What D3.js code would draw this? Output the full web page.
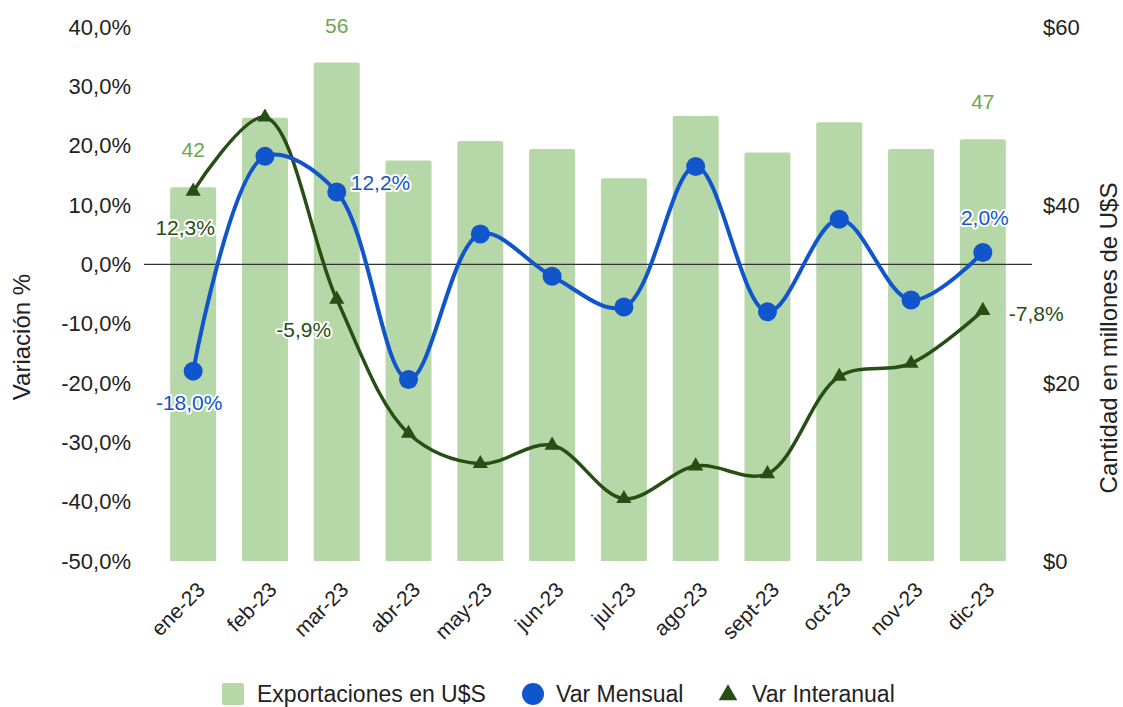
<!DOCTYPE html>
<html>
<head>
<meta charset="utf-8">
<script src="https://cdn.jsdelivr.net/npm/d3@7"></script>
<style>
  body { margin: 0; background: #fff; }
  text { font-family: Arial, "Liberation Sans", sans-serif; }
</style>
</head>
<body>
<div id="main"></div>
<script>
// datos del gráfico
const months = ['ene-23', 'feb-23', 'mar-23', 'abr-23', 'may-23', 'jun-23', 'jul-23', 'ago-23', 'sept-23', 'oct-23', 'nov-23', 'dic-23'];
const exportaciones = [42, 49.8, 56, 45, 47.2, 46.3, 43, 50, 45.9, 49.3, 46.3, 47.4];
const varMensual = [-18.0, 18.2, 12.2, -19.4, 5.1, -2.0, -7.2, 16.5, -8.0, 7.6, -6.0, 2.0];
const varInteranual = [12.3, 24.8, -5.9, -28.5, -33.6, -30.5, -39.5, -34.0, -35.3, -18.9, -16.7, -7.8];
const leftTicks = [-50, -40, -30, -20, -10, 0, 10, 20, 30, 40];
const rightTicks = [0, 20, 40, 60];
const labeled = ['ene-23', 'mar-23', 'dic-23'];

const w = 1123;
const h = 707;
const fontSize = 21;

const barColor = '#b6d7a8';
const blue = '#1155cc';
const darkGreen = '#274e13';
const labelGreen = '#6aa84f';

const svg = d3.select('#main')
    .append('svg')
    .attr('width', w)
    .attr('height', h)

const x = d3.scaleBand()
    .domain(months)
    .range([144, 1032])
    .paddingInner(0.36)
    .paddingOuter(0.365)

const yPct = d3.scaleLinear()
    .domain([-50, 40])
    .range([561, 27])

const yUsd = d3.scaleLinear()
    .domain([0, 60])
    .range([561, 27])

const cx = d => x(d) + x.bandwidth() / 2
const fmtPct = v => d3.format('.1f')(v).replace('.', ',').replace('\u2212', '-') + '%'

// ejes
const leftAxis = svg.append('g')
    .attr('transform', 'translate(144,0)')
    .call(d3.axisLeft(yPct).tickValues(leftTicks).tickSize(0).tickPadding(13).tickFormat(fmtPct))
leftAxis.select('.domain').remove()

const rightAxis = svg.append('g')
    .attr('transform', 'translate(1032,0)')
    .call(d3.axisRight(yUsd).tickValues(rightTicks).tickSize(0).tickPadding(11).tickFormat(d => '$' + d))
rightAxis.select('.domain').remove()

const bottomAxis = svg.append('g')
    .attr('transform', 'translate(0,561)')
    .call(d3.axisBottom(x).tickSize(0))
bottomAxis.select('.domain').remove()

svg.selectAll('.tick text')
    .attr('font-family', 'Arial, "Liberation Sans", sans-serif')
    .attr('font-size', 22)
    .attr('fill', '#222')

bottomAxis.selectAll('text')
    .attr('text-anchor', 'end')
    .attr('font-size', fontSize)
    .attr('dy', null)
    .attr('y', 0)
    .attr('transform', 'translate(13,30) rotate(-45)')

// títulos de ejes
svg.append('text')
    .attr('transform', 'translate(30,337) rotate(-90)')
    .attr('text-anchor', 'middle')
    .attr('font-size', 24)
    .attr('fill', '#222')
    .text('Variación %')

svg.append('text')
    .attr('transform', 'translate(1117,338) rotate(-90)')
    .attr('text-anchor', 'middle')
    .attr('font-size', 24)
    .attr('fill', '#222')
    .text('Cantidad en millones de U$S')

// barras
svg.append('g')
    .selectAll('path')
    .data(months)
    .enter()
    .append('path')
    .attr('fill', barColor)
    .attr('d', (d, i) => {
        const x0 = x(d), x1 = x0 + x.bandwidth(), y0 = yUsd(exportaciones[i]), y1 = yUsd(0), r = 2
        return `M${x0},${y1}V${y0 + r}Q${x0},${y0} ${x0 + r},${y0}H${x1 - r}Q${x1},${y0} ${x1},${y0 + r}V${y1}Z`
    })

// línea del cero
svg.append('line')
    .attr('x1', 144)
    .attr('x2', 1032)
    .attr('y1', yPct(0))
    .attr('y2', yPct(0))
    .attr('stroke', '#333')
    .attr('stroke-width', 1.3)

// etiquetas de barras
svg.append('g')
    .selectAll('text')
    .data(months.filter(m => labeled.includes(m)))
    .enter()
    .append('text')
    .attr('x', d => cx(d))
    .attr('y', d => yUsd(exportaciones[months.indexOf(d)]) - 30)
    .attr('text-anchor', 'middle')
    .attr('font-size', fontSize)
    .attr('fill', labelGreen)
    .text(d => d3.format('.0f')(exportaciones[months.indexOf(d)]))

const line = d3.line()
    .curve(d3.curveCatmullRom.alpha(0.5))

// Var Interanual
svg.append('path')
    .datum(months.map((m, i) => [cx(m), yPct(varInteranual[i])]))
    .attr('d', line)
    .attr('fill', 'none')
    .attr('stroke', darkGreen)
    .attr('stroke-width', 3.5)

svg.append('g')
    .selectAll('path')
    .data(months)
    .enter()
    .append('path')
    .attr('d', d3.symbol(d3.symbolTriangle, 100))
    .attr('transform', (d, i) => `translate(${cx(d)},${yPct(varInteranual[i])})`)
    .attr('fill', darkGreen)

// Var Mensual
svg.append('path')
    .datum(months.map((m, i) => [cx(m), yPct(varMensual[i])]))
    .attr('d', line)
    .attr('fill', 'none')
    .attr('stroke', blue)
    .attr('stroke-width', 4)

svg.append('g')
    .selectAll('circle')
    .data(months)
    .enter()
    .append('circle')
    .attr('cx', d => cx(d))
    .attr('cy', (d, i) => yPct(varMensual[i]))
    .attr('r', 9.5)
    .attr('fill', blue)

// etiquetas de las líneas (con halo blanco)
const lineLabels = [
    { m: 'ene-23', v: varMensual[0], c: blue, dx: -4, dy: 39, a: 'middle' },
    { m: 'mar-23', v: varMensual[2], c: blue, dx: 14, dy: -2, a: 'start' },
    { m: 'dic-23', v: varMensual[11], c: blue, dx: 2, dy: -27, a: 'middle' },
    { m: 'ene-23', v: varInteranual[0], c: darkGreen, dx: -8, dy: 44, a: 'middle' },
    { m: 'mar-23', v: varInteranual[2], c: darkGreen, dx: -33, dy: 38, a: 'middle' },
    { m: 'dic-23', v: varInteranual[11], c: darkGreen, dx: 26, dy: 10, a: 'start' }
]

svg.append('g')
    .selectAll('text')
    .data(lineLabels)
    .enter()
    .append('text')
    .attr('x', d => cx(d.m) + d.dx)
    .attr('y', d => yPct(d.v) + d.dy)
    .attr('text-anchor', d => d.a)
    .attr('font-size', fontSize)
    .attr('fill', d => d.c)
    .attr('stroke', '#fff')
    .attr('stroke-width', 4)
    .attr('stroke-linejoin', 'round')
    .attr('paint-order', 'stroke')
    .text(d => fmtPct(d.v))

// leyenda
const legend = svg.append('g')
    .attr('transform', 'translate(0,694)')

legend.append('rect')
    .attr('x', 222)
    .attr('y', -11)
    .attr('width', 22)
    .attr('height', 22)
    .attr('rx', 2)
    .attr('fill', barColor)

legend.append('circle')
    .attr('cx', 533)
    .attr('cy', 0)
    .attr('r', 11)
    .attr('fill', blue)

legend.append('path')
    .attr('d', d3.symbol(d3.symbolTriangle, 150))
    .attr('transform', 'translate(728,1)')
    .attr('fill', darkGreen)

legend.selectAll('.legend-text')
    .data([['Exportaciones en U$S', 257], ['Var Mensual', 556], ['Var Interanual', 752]])
    .enter()
    .append('text')
    .attr('x', d => d[1])
    .attr('y', 8)
    .attr('font-size', 23)
    .attr('fill', '#222')
    .text(d => d[0])
</script>
</body>
</html>
